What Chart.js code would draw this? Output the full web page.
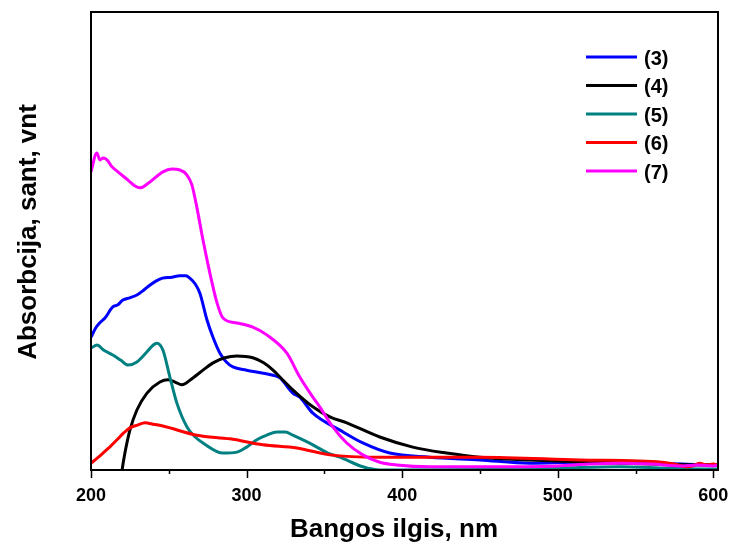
<!DOCTYPE html>
<html>
<head>
<meta charset="utf-8">
<script src="https://cdn.jsdelivr.net/npm/chart.js@4"></script>
<style>
  html, body { margin: 0; padding: 0; background: #fff; }
  #wrap { width: 731px; height: 545px; }
</style>
</head>
<body>
<div id="wrap"><canvas id="absChart" width="731" height="545"></canvas></div>
<script>
// x axis: labelled ticks and minor ticks
const xTickLabels = [200, 300, 400, 500, 600];
const xMinorTicks = [250, 350, 450, 550];

const seriesNames = ["(3)", "(4)", "(5)", "(6)", "(7)"];
const seriesColors = ["#0000ff", "#000000", "#008080", "#ff0000", "#ff00ff"];

// (3) blue
const wl3 = [200, 203, 205.5, 209, 214, 217, 220.5, 225, 229.5, 234, 238, 242, 246, 252, 257, 261, 263.5, 267, 270, 274.5, 278.4, 282.9, 287, 291.2, 300, 310, 317, 321.4, 329.7, 334.2, 342.6, 360, 374.7, 392, 417.7, 450, 482, 514, 550, 580, 600, 603];
const abs3 = [29.0, 31.0, 32.1, 33.2, 35.6, 36.0, 37.1, 37.6, 38.2, 39.3, 40.4, 41.3, 41.9, 42.1, 42.4, 42.4, 41.9, 40.6, 38.6, 32.8, 29.0, 25.5, 23.6, 22.5, 21.8, 21.2, 20.7, 20.1, 16.8, 15.9, 12.4, 8.7, 5.9, 3.7, 2.8, 2.2, 1.5, 1.7, 1.5, 1.3, 1.1, 1.1];

// (4) black
const wl4 = [219, 220, 221.8, 225, 229.5, 236, 244.3, 249.5, 254, 258.4, 265.5, 272, 278.4, 286, 293.8, 304, 311, 317, 321.4, 329.7, 342.6, 353.5, 364.4, 385.6, 406.8, 428.6, 449.8, 482, 520, 560, 600, 603];
const abs4 = [-3, 0, 3.7, 8.7, 13.1, 16.8, 19.2, 19.7, 19.2, 18.6, 20.1, 21.8, 23.4, 24.5, 24.9, 24.5, 23.4, 21.8, 20.3, 17.5, 13.8, 11.6, 10.3, 7.2, 5.0, 3.7, 2.8, 2.2, 1.7, 1.3, 1.1, 1.1];

// (5) teal
const wl5 = [200, 203.9, 208, 214, 219, 223.8, 229.5, 236, 240, 242.4, 246.2, 250.7, 255.2, 261.7, 267, 272, 284.8, 293.8, 300, 306.6, 313, 319.5, 325, 329.7, 342.6, 352.2, 360, 374.7, 385.6, 400, 450, 500, 540, 570, 600, 603];
const abs5 = [26.6, 27.3, 26.2, 25.1, 24.0, 22.9, 23.6, 25.8, 27.3, 27.7, 26.2, 20.3, 14.6, 9.4, 7.2, 5.9, 3.7, 3.9, 5.0, 6.6, 7.6, 8.3, 8.3, 7.6, 5.5, 3.7, 2.8, 0.7, 0.0, 0.0, 0.1, 0.4, 0.7, 0.4, 0.2, 0.2];

// (6) red
const wl6 = [200, 204, 207.7, 212, 216.7, 221, 225, 230, 234.7, 240, 246.2, 268, 289.3, 310.5, 332.3, 353.5, 385.6, 450, 514, 567, 575, 582.8, 587, 591, 596, 600, 603];
const abs6 = [1.5, 2.6, 3.7, 5.0, 6.6, 8.1, 9.2, 9.8, 10.3, 10.0, 9.6, 7.6, 6.8, 5.5, 4.8, 3.3, 2.8, 2.8, 2.2, 1.7, 1.3, 0.7, 0.9, 1.5, 1.1, 1.3, 1.1];

// (7) magenta
const wl7 = [200, 203.7, 205.8, 207.7, 210.3, 213.5, 217.3, 223.8, 228.3, 231.5, 237.9, 246.2, 252, 257.2, 261.7, 264.9, 268, 272, 276.4, 281, 284.8, 293.8, 304, 313, 325.9, 334.2, 342.6, 347, 355.4, 364.4, 374.7, 385.6, 396.5, 417.7, 450, 500, 520, 540, 560, 580, 590, 600, 603];
const abs7 = [65.1, 69.2, 67.7, 68.1, 67.7, 66.2, 65.1, 63.3, 62.0, 61.6, 62.9, 65.1, 65.7, 65.5, 64.4, 62.2, 57.4, 50.2, 43.0, 36.5, 33.2, 32.1, 31.2, 29.5, 25.5, 20.3, 15.9, 13.8, 9.4, 5.9, 3.3, 1.7, 1.1, 0.7, 0.7, 0.9, 1.3, 1.5, 1.3, 0.9, 1.1, 0.9, 1.0];

const FONT = "'Liberation Sans', Arial, sans-serif";

function pairs(xs, ys) {
  return xs.map((x, i) => ({ x: x, y: ys[i] }));
}

const allSeries = [
  pairs(wl3, abs3),
  pairs(wl4, abs4),
  pairs(wl5, abs5),
  pairs(wl6, abs6),
  pairs(wl7, abs7),
];

// frame, tick marks, tick labels, axis titles and legend
const decorations = {
  id: "decorations",
  afterDraw(chart) {
    const ctx = chart.ctx;
    const area = chart.chartArea;
    const xScale = chart.scales.x;
    ctx.save();

    ctx.strokeStyle = "#000";
    ctx.lineWidth = 2;
    ctx.strokeRect(area.left, area.top, area.right - area.left, area.bottom - area.top);

    ctx.lineWidth = 1.5;
    const tickMark = (v, len) => {
      const px = Math.round(xScale.getPixelForValue(v)) + 0.5;
      ctx.beginPath();
      ctx.moveTo(px, area.bottom);
      ctx.lineTo(px, area.bottom + len);
      ctx.stroke();
    };
    xMinorTicks.forEach((v) => tickMark(v, 4));
    xTickLabels.forEach((v) => tickMark(v, 8));

    ctx.fillStyle = "#000";
    ctx.font = "bold 18px " + FONT;
    ctx.textAlign = "center";
    ctx.textBaseline = "middle";
    xTickLabels.forEach((v) => {
      ctx.fillText(String(v), xScale.getPixelForValue(v), 496);
    });

    ctx.font = "bold 26px " + FONT;
    ctx.textBaseline = "alphabetic";
    ctx.fillText("Bangos ilgis, nm", 394, 537);

    ctx.save();
    ctx.translate(36, 232);
    ctx.rotate(-Math.PI / 2);
    ctx.fillText("Absorbcija, sant, vnt", 0, 0);
    ctx.restore();

    ctx.font = "bold 20px " + FONT;
    ctx.textAlign = "left";
    ctx.textBaseline = "middle";
    chart.data.datasets.forEach((ds, i) => {
      const y = 57 + i * 28.5;
      ctx.strokeStyle = ds.borderColor;
      ctx.lineWidth = 3;
      ctx.beginPath();
      ctx.moveTo(586, y);
      ctx.lineTo(637, y);
      ctx.stroke();
      ctx.fillText(ds.label, 644, y + 2);
    });
    ctx.restore();
  },
};

const datasets = allSeries.map((pts, i) => ({
  label: seriesNames[i],
  data: pts,
  borderColor: seriesColors[i],
  backgroundColor: seriesColors[i],
  borderWidth: 3,
  pointRadius: 0,
  cubicInterpolationMode: "monotone",
  order: seriesNames.length - i,
}));

new Chart(document.getElementById("absChart"), {
  type: "line",
  data: { datasets },
  options: {
    responsive: false,
    animation: false,
    layout: { padding: { left: 91, top: 12, right: 13, bottom: 75 } },
    plugins: { legend: { display: false }, tooltip: { enabled: false } },
    scales: {
      x: { type: "linear", display: false, min: 200, max: 603 },
      y: { display: false, min: 0, max: 100 },
    },
  },
  plugins: [decorations],
});
</script>
</body>
</html>
